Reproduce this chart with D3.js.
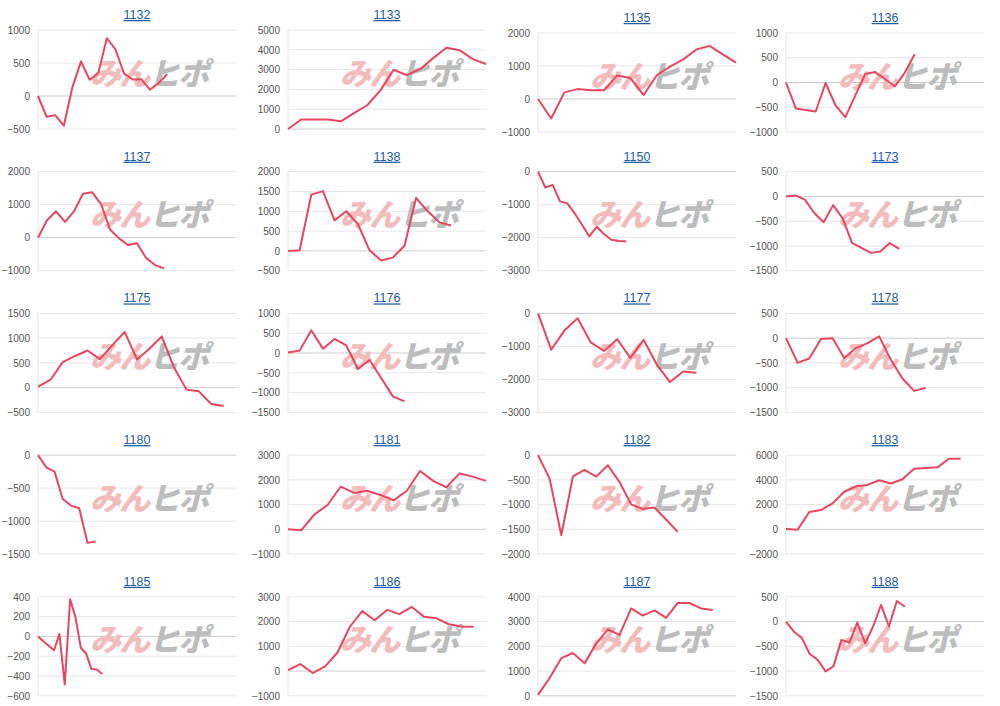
<!DOCTYPE html>
<html>
<head>
<meta charset="utf-8">
<script src="https://cdn.jsdelivr.net/npm/d3@7"></script>
<style>
  body { margin: 0; background: #fff; }
  svg { display: block; }
  .tick-label { font-family: "Liberation Sans", Arial, sans-serif; font-size: 10px; fill: #555; }
  .title { font-family: "Liberation Sans", Arial, sans-serif; font-size: 12.5px; fill: #1b5ba8; text-decoration: underline; }
</style>
</head>
<body>
<div id="chart"></div>
<script>
// machine ids (panel titles), in reading order
const IDS = ["1132", "1133", "1135", "1136",
             "1137", "1138", "1150", "1173",
             "1175", "1176", "1177", "1178",
             "1180", "1181", "1182", "1183",
             "1185", "1186", "1187", "1188"];

// number of x slots each small chart is laid out for
const SLOTS = [24, 16, 16, 21,
               23, 18, 28, 22,
               17, 18, 16, 18,
               25, 16, 18, 18,
               38, 17, 18, 26];

// y tick values for each panel
const TICKS = [
  [-500, 0, 500, 1000],
  [0, 1000, 2000, 3000, 4000, 5000],
  [-1000, 0, 1000, 2000],
  [-1000, -500, 0, 500, 1000],
  [-1000, 0, 1000, 2000],
  [-500, 0, 500, 1000, 1500, 2000],
  [-3000, -2000, -1000, 0],
  [-1500, -1000, -500, 0, 500],
  [-500, 0, 500, 1000, 1500],
  [-1500, -1000, -500, 0, 500, 1000],
  [-3000, -2000, -1000, 0],
  [-1500, -1000, -500, 0, 500],
  [-1500, -1000, -500, 0],
  [-1000, 0, 1000, 2000, 3000],
  [-2000, -1500, -1000, -500, 0],
  [-2000, 0, 2000, 4000, 6000],
  [-600, -400, -200, 0, 200, 400],
  [-1000, 0, 1000, 2000, 3000],
  [0, 1000, 2000, 3000, 4000],
  [-1500, -1000, -500, 0, 500]
];

// cumulative values per machine
const S1132 = [0, -315, -290, -450, 135, 525, 245, 350, 875, 705, 340, 250, 255, 95, 195, 330];
const S1133 = [0, 480, 480, 480, 390, 800, 1200, 1950, 2990, 2720, 3020, 3580, 4100, 3980, 3530, 3280];
const S1135 = [0, -590, 200, 300, 265, 265, 715, 635, 120, 720, 980, 1200, 1500, 1610, 1350, 1100];
const S1136 = [0, -525, -555, -585, -10, -460, -700, -260, 170, 210, 70, -80, 200, 570];
const S1137 = [0, 530, 800, 480, 800, 1330, 1380, 1020, 250, -20, -220, -170, -610, -830, -930];
const S1138 = [0, 15, 1420, 1510, 770, 1000, 680, 15, -240, -170, 130, 1340, 1000, 720, 640];
const S1150 = [0, -480, -400, -900, -960, -1260, -1610, -1960, -1670, -1890, -2060, -2100, -2110];
const S1173 = [0, 20, -65, -335, -520, -175, -440, -940, -1040, -1140, -1110, -940, -1060];
const S1175 = [20, 155, 515, 640, 750, 575, 855, 1125, 570, 785, 1035, 400, -40, -75, -330, -370];
const S1176 = [10, 60, 575, 110, 355, 195, -405, -175, -630, -1095, -1220];
const S1177 = [0, -1100, -520, -150, -880, -1140, -780, -1350, -800, -1550, -2080, -1760, -1800];
const S1178 = [0, -500, -410, -15, 0, -400, -200, -100, 35, -435, -815, -1065, -1005];
const S1180 = [0, -185, -250, -665, -765, -805, -1330, -1310];
const S1181 = [0, -40, 600, 985, 1730, 1470, 1560, 1390, 1170, 1560, 2360, 1960, 1700, 2260, 2130, 1960];
const S1182 = [0, -475, -1620, -430, -300, -435, -205, -545, -995, -1090, -1060, -1300, -1550];
const S1183 = [30, -30, 1400, 1560, 2100, 3040, 3480, 3590, 3970, 3700, 4050, 4900, 4950, 5010, 5700, 5700];
const S1185 = [0, -50, -95, -140, 25, -485, 375, 195, -115, -175, -330, -335, -380];
const S1186 = [40, 280, -80, 190, 750, 1790, 2420, 2050, 2470, 2300, 2590, 2190, 2130, 1890, 1800, 1790];
const S1187 = [40, 720, 1520, 1730, 1310, 2110, 2680, 2460, 3530, 3240, 3450, 3150, 3750, 3750, 3530, 3470];
const S1188 = [0, -205, -330, -655, -775, -1010, -900, -370, -425, -20, -440, -100, 335, -100, 415, 300];

const SERIES = [S1132, S1133, S1135, S1136, S1137, S1138, S1150, S1173, S1175, S1176,
                S1177, S1178, S1180, S1181, S1182, S1183, S1185, S1186, S1187, S1188];

// frame
const FRAME_WIDTH = 1000;
const FRAME_HEIGHT = 706;
const COL_X = [0, 250, 500, 748];
const ROW_PITCH = 141.7;
const PLOT = {left: 38, right: 236, top: 30, height: 99};
// the right half of the first row sits a little lower in the original page
const FIRST_ROW_NUDGE = [0, 0, 3, 3];

const FRAME = d3.select("#chart")
                .append("svg")
                  .attr("width", FRAME_WIDTH)
                  .attr("height", FRAME_HEIGHT);

IDS.forEach((id, i) => {
    const col = i % 4;
    const row = Math.floor(i / 4);
    const x0 = COL_X[col];
    const y0 = row * ROW_PITCH + (row === 0 ? FIRST_ROW_NUDGE[col] : 0);
    const ticks = TICKS[i];

    const left = x0 + PLOT.left;
    const right = x0 + PLOT.right;
    const top = y0 + PLOT.top;
    const bottom = top + PLOT.height;

    const X_SCALE = d3.scaleLinear()
                      .domain([0, SLOTS[i] - 1])
                      .range([left, right]);
    const Y_SCALE = d3.scaleLinear()
                      .domain([d3.min(ticks), d3.max(ticks)])
                      .range([bottom, top]);

    const g = FRAME.append("g");

    // gridlines
    g.selectAll(".grid")
      .data(ticks)
      .enter()
      .append("line")
        .attr("x1", left)
        .attr("x2", right)
        .attr("y1", (d) => Y_SCALE(d))
        .attr("y2", (d) => Y_SCALE(d))
        .attr("stroke", (d) => d === 0 ? "#cccccc" : "#e6e6e6")
        .attr("stroke-width", 1);

    // left axis line
    g.append("line")
      .attr("x1", left).attr("x2", left)
      .attr("y1", top).attr("y2", bottom)
      .attr("stroke", "#e6e6e6");

    // y axis labels
    const axis = g.append("g")
                  .attr("transform", "translate(" + left + ",0)")
                  .call(d3.axisLeft(Y_SCALE).tickValues(ticks).tickSize(0).tickPadding(8).tickFormat(d3.format("d")));
    axis.select(".domain").remove();
    axis.selectAll("text")
        .attr("class", "tick-label")
        .attr("fill", null);

    // watermark (site logo)
    const wx = left + (right - left) * 0.56;
    const wy = top + PLOT.height * 0.44 + 11;
    const wm = g.append("text")
                .attr("transform", "translate(" + wx + "," + wy + ") skewX(-14)")
                .attr("text-anchor", "middle")
                .attr("font-family", "'Noto Sans CJK JP', sans-serif")
                .attr("font-weight", 900)
                .attr("font-size", 31)
                .attr("letter-spacing", -1.5);
    wm.append("tspan").attr("fill", "#f2bcbc").text("みん");
    wm.append("tspan").attr("fill", "#bdbdbd").text("ヒポ");

    // line
    const line = d3.line()
                   .x((d, k) => X_SCALE(k))
                   .y((d) => Y_SCALE(d));
    g.append("path")
      .datum(SERIES[i])
      .attr("d", line)
      .attr("fill", "none")
      .attr("stroke", "#e8465f")
      .attr("stroke-width", 2)
      .attr("stroke-linejoin", "round");

    // title
    g.append("text")
      .attr("class", "title")
      .attr("x", (left + right) / 2)
      .attr("y", top - 11)
      .attr("text-anchor", "middle")
      .text(id);
});
</script>
</body>
</html>
